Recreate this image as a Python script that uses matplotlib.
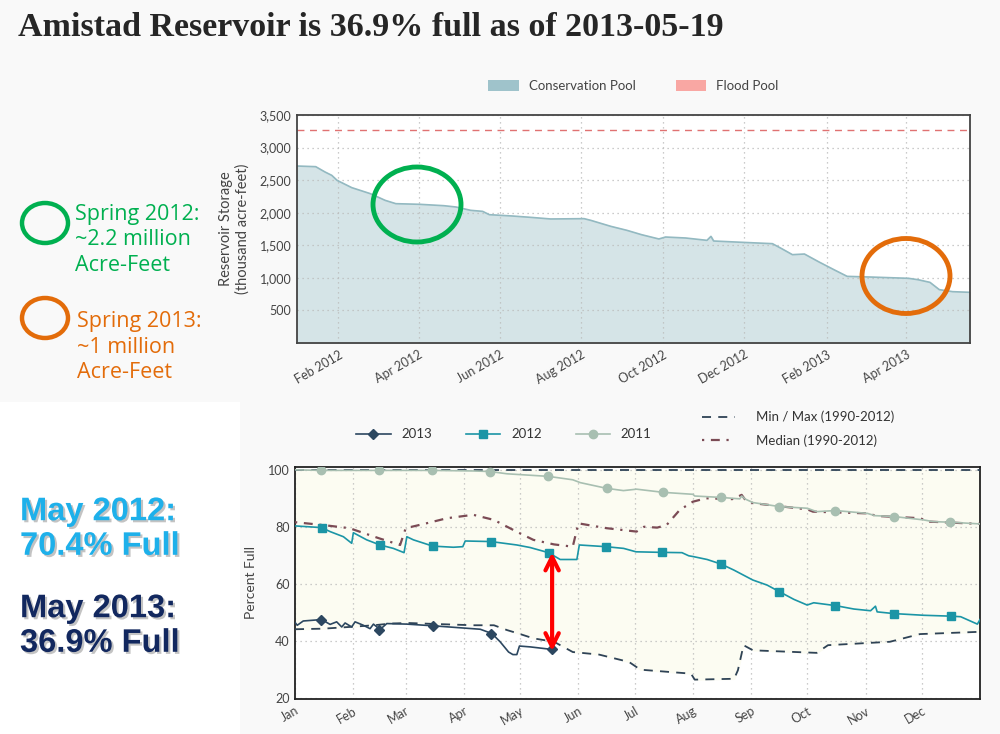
import matplotlib
matplotlib.use("Agg")
import matplotlib.pyplot as plt
import matplotlib.dates as mdates
import matplotlib.patheffects as pe
from matplotlib.patches import Ellipse, Rectangle, Patch
from matplotlib.lines import Line2D
from matplotlib.ticker import FuncFormatter
import pandas as pd

# Storage (thousand acre-feet), Jan 2012 - May 2013
storage_dates = ["2012-01-01", "2012-01-15", "2012-01-22", "2012-01-27", "2012-01-31",
                 "2012-02-11", "2012-02-25", "2012-03-07", "2012-03-15", "2012-04-02",
                 "2012-04-20", "2012-04-29", "2012-05-10", "2012-05-19", "2012-05-24",
                 "2012-06-10", "2012-06-24", "2012-07-09", "2012-08-03", "2012-08-08",
                 "2012-08-23", "2012-09-04", "2012-09-15", "2012-09-28", "2012-10-03",
                 "2012-10-18", "2012-11-03", "2012-11-06", "2012-11-08", "2012-11-30",
                 "2012-12-22", "2012-12-29", "2013-01-06", "2013-01-15", "2013-01-26",
                 "2013-02-07", "2013-02-16", "2013-03-05", "2013-04-03", "2013-04-10",
                 "2013-04-19", "2013-04-26", "2013-05-06", "2013-05-19"]
storage_vals = [2717, 2707, 2625, 2574, 2497, 2385, 2292, 2190, 2139, 2129,
                2108, 2088, 2037, 2021, 1970, 1950, 1929, 1904, 1909, 1883,
                1791, 1730, 1663, 1597, 1627, 1612, 1576, 1637, 1566, 1545,
                1525, 1448, 1356, 1366, 1243, 1116, 1023, 1013, 993, 972,
                931, 819, 788, 778]
flood_pool = 3275

# Percent full by day of year
y2013_days = [0, 1.2, 4.4, 14.2, 18.7, 22.2, 24.9, 26.7, 30.2, 32, 36.4, 40, 41.8, 45.3,
              48.9, 59.6, 73.8, 86.2, 98.7, 104.9, 109.3, 113.8, 116.1, 118.2, 119.6, 125.3, 137]
y2013_vals = [46.4, 45.4, 46.9, 47.4, 45.7, 46.6, 44.8, 46.2, 44.8, 46.6, 45.4, 44.2, 45.8, 43.9,
              46.0, 45.8, 45.2, 44.6, 44.0, 42.5, 39.6, 36.0, 35.1, 35.1, 38.1, 37.8, 36.9]
y2013_mark_days = [14, 45, 73.5, 104.5, 137]
y2013_mark_vals = [47.4, 43.9, 45.2, 42.5, 36.9]

y2012_days = [0, 14.2, 18.7, 25.8, 30.2, 31.1, 38.2, 45.3, 52.4, 58.1, 59.6, 63.1, 73.4, 84.4,
              89.4, 90.7, 104.4, 118.2, 125.3, 135.1, 141.3, 150.2, 151.5, 165.7, 175.1, 181.7,
              195.6, 206.2, 209.8, 212.4, 219.6, 227, 233.8, 243.9, 251.6, 258.1, 265.8, 272.9,
              276.4, 288, 297.8, 306.7, 309.3, 310.2, 319.1, 335.1, 349.3, 354.7, 363.6, 365]
y2012_vals = [80.3, 79.7, 78.3, 76.5, 74.2, 77.9, 75.4, 73.6, 72.4, 70.9, 76.5, 75.4, 73.2, 72.8,
              73.0, 75.0, 74.8, 73.6, 72.7, 70.9, 68.5, 68.5, 73.6, 73.0, 72.4, 71.2,
              71.0, 70.9, 69.8, 69.5, 68.5, 66.9, 64.8, 61.3, 59.5, 57.2, 54.5, 52.5,
              53.3, 52.3, 51.1, 50.5, 52.1, 50.1, 49.5, 48.9, 48.6, 48.4, 45.8, 47.4]
y2012_mark_days = [14.2, 45.3, 73.4, 104.4, 135.1, 165.7, 195.6, 227, 258.1, 288, 319.1, 349.3]
y2012_mark_vals = [79.7, 73.6, 73.2, 74.8, 70.9, 73.0, 71.0, 66.9, 57.2, 52.3, 49.5, 48.6]

y2011_days = [0, 14, 45, 73, 95, 104, 113, 135, 148, 152, 166, 175, 182, 196, 205, 212, 213,
              227, 237, 238, 240, 244, 258, 273, 278, 288, 305, 309, 319, 335, 340, 349, 365]
y2011_vals = [100, 99.8, 99.8, 99.8, 99.6, 99.4, 98.6, 97.7, 96.5, 95.5, 93.5, 92.7, 93.2, 92.1,
              91.7, 91.4, 90.8, 90.3, 89.8, 90.8, 89.7, 88.5, 87.1, 86.5, 85.3, 85.7, 84.7,
              83.9, 83.6, 82.4, 81.8, 81.6, 81.0]
y2011_mark_days = [14, 45, 73, 104, 135, 166, 196, 227, 258, 288, 319, 349]
y2011_mark_vals = [99.8, 99.8, 99.8, 99.4, 97.7, 93.5, 92.1, 90.3, 87.1, 85.7, 83.6, 81.6]

median_days = [0, 15, 29, 45, 56, 59, 70, 81, 95, 106, 118, 127, 138, 148, 151, 166, 182, 186,
               193, 198, 205, 212, 219, 233, 238, 240, 244, 273, 276, 305, 310, 333, 338, 365]
median_vals = [81.6, 80.6, 79.5, 75.9, 73.6, 79.5, 81.2, 83.0, 84.2, 82.4, 78.3, 75.4, 73.8, 73.0,
               81.2, 79.5, 78.3, 80.0, 79.7, 80.6, 85.9, 88.8, 90.0, 89.7, 91.2, 89.4, 88.3,
               86.1, 85.3, 84.7, 83.8, 83.0, 81.8, 81.0]

min_days = [0, 15, 29, 42, 51, 60, 77, 95, 106, 113, 120, 127, 138, 148, 162, 178, 184, 211,
            213, 234, 236, 239, 244, 278, 284, 317, 333, 365]
min_vals = [44.0, 44.2, 44.8, 45.4, 46.0, 46.2, 45.8, 45.4, 45.4, 43.7, 42.3, 40.8, 39.6, 36.0,
            35.1, 32.5, 29.8, 28.4, 26.3, 26.6, 29.6, 38.4, 36.6, 35.7, 38.4, 39.6, 42.3, 43.1]
max_val = 100

month_starts = [0, 31, 59, 90, 120, 151, 181, 212, 243, 273, 304, 334]
month_labels = ["Jan", "Feb", "Mar", "Apr", "May", "Jun", "Jul", "Aug", "Sep", "Oct", "Nov", "Dec"]

plt.rcParams["font.family"] = ["Lato", "DejaVu Sans"]

fig = plt.figure(figsize=(10, 7.34), dpi=100, facecolor="#f9f9f9")
fig.patches.append(Rectangle((0, 0), 0.24, 1 - 402 / 734, transform=fig.transFigure,
                             facecolor="white", edgecolor="none", zorder=0))

fig.text(0.018, 1 - 27 / 734, "Amistad Reservoir is 36.9% full as of 2013-05-19",
         fontsize=24.5, fontweight="bold", family="Liberation Serif", color="#262626", va="center")

# ---- top chart: storage ----
ax1 = fig.add_axes([0.297, 0.5327, 0.673, 0.3106])
dates = pd.to_datetime(storage_dates)
ax1.fill_between(dates, storage_vals, 0, color="#d5e4e7", zorder=1)
ax1.plot(dates, storage_vals, color="#93b9c1", lw=1.2, zorder=2)
ax1.axhline(flood_pool, color="#e07272", lw=1, dashes=(5, 4), zorder=2)
ax1.set_xlim(pd.Timestamp("2012-01-01"), pd.Timestamp("2013-05-19"))
ax1.set_ylim(0, 3500)
ax1.set_yticks(range(500, 3501, 500))
ax1.yaxis.set_major_formatter(FuncFormatter(lambda v, p: f"{int(v):,}"))
ax1.xaxis.set_major_locator(mdates.MonthLocator(bymonth=[2, 4, 6, 8, 10, 12]))
ax1.xaxis.set_major_formatter(mdates.DateFormatter("%b %Y"))
plt.setp(ax1.get_xticklabels(), rotation=30, ha="right", rotation_mode="anchor")
ax1.grid(True, color="#bbbbbb", ls=(0, (1, 3)), lw=0.9)
ax1.tick_params(length=0, labelsize=9, colors="#444444", pad=4)
for s in ax1.spines.values():
    s.set_color("#444444")
    s.set_linewidth(1.3)
ax1.set_ylabel("Reservoir Storage\n(thousand acre-feet)", fontsize=10.5, color="#444444", labelpad=7)
ax1.legend(handles=[Patch(facecolor="#9fc3cb", label="Conservation Pool"),
                    Patch(facecolor="#f9a7a3", label="Flood Pool")],
           loc="lower center", bbox_to_anchor=(0.5, 1.05), ncol=2, frameon=False,
           fontsize=9.5, handlelength=2.3, handleheight=0.9, columnspacing=3,
           labelcolor="#444444")

# ---- bottom chart: percent full ----
ax2 = fig.add_axes([0.295, 0.0477, 0.685, 0.3161])
ax2.fill_between(min_days, min_vals, max_val, color="#fcfcf2", zorder=0)
ax2.axhline(max_val, color="#2f4356", lw=1.3, dashes=(5, 4), zorder=3)
ax2.plot(min_days, min_vals, color="#2f4356", lw=1.3, dashes=(5, 4), zorder=3)
ax2.plot(median_days, median_vals, color="#7b4b55", lw=1.6, dashes=(1, 3, 4, 3), zorder=3)
ax2.plot(y2011_days, y2011_vals, color="#a8bfb1", lw=1.2, zorder=4)
ax2.plot(y2011_mark_days, y2011_mark_vals, ls="none", marker="o", ms=6, color="#a8bfb1", zorder=4)
ax2.plot(y2012_days, y2012_vals, color="#1b95a6", lw=1.2, zorder=5)
ax2.plot(y2012_mark_days, y2012_mark_vals, ls="none", marker="s", ms=5.5, color="#1b95a6", zorder=5)
ax2.plot(y2013_days, y2013_vals, color="#2c4760", lw=1.2, zorder=6)
ax2.plot(y2013_mark_days, y2013_mark_vals, ls="none", marker="D", ms=5.5, color="#2c4760", zorder=6)
ax2.annotate("", xy=(137, 36.3), xytext=(137, 71.0),
             arrowprops=dict(arrowstyle="<->", color="red", lw=3, mutation_scale=24,
                             shrinkA=0, shrinkB=0), zorder=7)
ax2.set_xlim(0, 365)
ax2.set_ylim(19.5, 101)
ax2.set_yticks([20, 40, 60, 80, 100])
ax2.set_xticks(month_starts)
ax2.set_xticklabels(month_labels, rotation=30, ha="right", rotation_mode="anchor")
ax2.grid(True, color="#bbbbbb", ls=(0, (1, 3)), lw=0.9)
ax2.tick_params(length=0, labelsize=9, colors="#444444", pad=4)
for s in ax2.spines.values():
    s.set_color("#222222")
    s.set_linewidth(1.3)
ax2.set_ylabel("Percent Full", fontsize=10, color="#444444", labelpad=8)

year_handles = [Line2D([], [], color="#2c4760", marker="D", ms=5.5, lw=1.2, label="2013"),
                Line2D([], [], color="#1b95a6", marker="s", ms=5.5, lw=1.2, label="2012"),
                Line2D([], [], color="#a8bfb1", marker="o", ms=6, lw=1.2, label="2011")]
leg1 = ax2.legend(handles=year_handles, loc="center", bbox_to_anchor=(0.305, 1.14), ncol=3,
                  frameon=False, fontsize=9.5, handlelength=2.6, columnspacing=2.6,
                  labelcolor="#333333")
ax2.add_artist(leg1)
ref_handles = [Line2D([], [], color="#2f4356", lw=1.3, dashes=(5, 4), label="Min / Max (1990-2012)"),
               Line2D([], [], color="#7b4b55", lw=1.6, dashes=(1, 3, 4, 3), label="Median (1990-2012)")]
ax2.legend(handles=ref_handles, loc="center", bbox_to_anchor=(0.735, 1.165), ncol=1,
           frameon=False, fontsize=9.5, handlelength=2.5, handletextpad=1.6,
           labelcolor="#333333", labelspacing=0.8)

# ---- annotations ----
for cx, cy, col in [(417, 204.5, "#00b050"), (906, 276, "#e36c0a"),
                    (45, 223, "#00b050"), (45, 318, "#e36c0a")]:
    w, h = (88, 75) if cx > 300 else (46, 40)
    fig.patches.append(Ellipse((cx / 1000, 1 - cy / 734), w / 1000, h / 734,
                               transform=fig.transFigure, fill=False, edgecolor=col,
                               lw=3.5 if cx > 300 else 3.2, zorder=10))

fig.text(0.075, 1 - 240 / 734, "Spring 2012:\n~2.2 million\nAcre-Feet", color="#00b050",
         fontsize=15.5, family="Open Sans", va="center", linespacing=1.3)
fig.text(0.077, 1 - 347 / 734, "Spring 2013:\n~1 million\nAcre-Feet", color="#e36c0a",
         fontsize=15.5, family="Open Sans", va="center", linespacing=1.3)

shadow = [pe.withSimplePatchShadow(offset=(1.5, -1.5), shadow_rgbFace="#888888", alpha=0.5)]
fig.text(0.02, 1 - 529 / 734, "May 2012:\n70.4% Full", color="#1eb0ea", fontsize=23.5,
         family="Liberation Sans", fontweight="bold", va="center", linespacing=1.15,
         path_effects=shadow)
fig.text(0.02, 1 - 626 / 734, "May 2013:\n36.9% Full", color="#12285f", fontsize=23.5,
         family="Liberation Sans", fontweight="bold", va="center", linespacing=1.15,
         path_effects=shadow)

fig.savefig("out.png", dpi=100, facecolor=fig.get_facecolor())
